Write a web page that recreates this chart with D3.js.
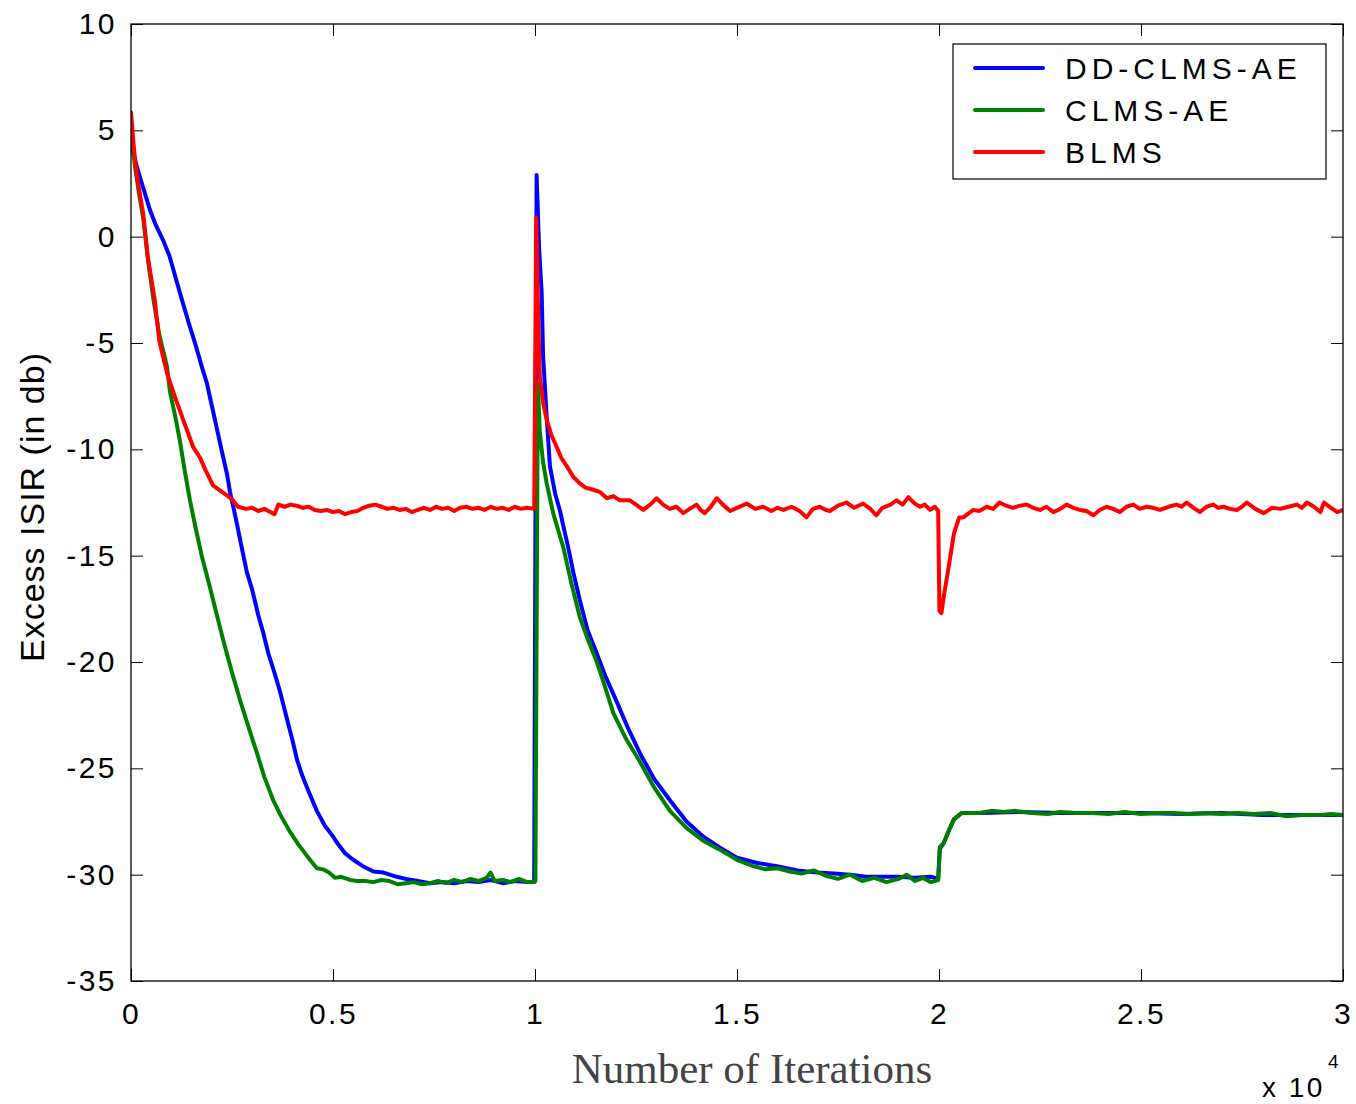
<!DOCTYPE html>
<html>
<head>
<meta charset="utf-8">
<script src="https://cdn.jsdelivr.net/npm/d3@7"></script>
<style>
html,body{margin:0;padding:0;background:#fff;}
svg{display:block;}
</style>
</head>
<body>
<svg id="chart" width="1356" height="1104"></svg>
<script>
// ---- Data (iterations, Excess ISIR in dB) ----
const seriesNames = ["DD-CLMS-AE", "CLMS-AE", "BLMS"];
const seriesColors = ["#0000ff", "#008000", "#ff0000"];

const ddclmsData = [
[0,4.4],[100,3.6],[220,2.8],[350,2.0],[470,1.25],[600,0.6],[790,-0.15],[950,-0.9],[1100,-1.9],[1250,-2.9],[1460,-4.25],[1600,-5.1],[1750,-6.1],[1880,-6.9],[1960,-7.6],[2100,-8.8],[2250,-10.1],[2380,-11.2],[2450,-12.0],[2600,-13.3],[2750,-14.7],[2870,-15.8],[3000,-16.6],[3150,-17.8],[3270,-18.6],[3400,-19.6],[3550,-20.5],[3690,-21.4],[3850,-22.6],[4000,-23.7],[4110,-24.6],[4250,-25.4],[4400,-26.1],[4600,-27.0],[4800,-27.7],[5000,-28.2],[5100,-28.5],[5300,-29.0],[5500,-29.3],[5740,-29.6],[6000,-29.85],[6250,-29.9],[6580,-30.1],[6800,-30.2],[7100,-30.3],[7400,-30.4],[7700,-30.35],[8000,-30.4],[8300,-30.3],[8600,-30.35],[8900,-30.25],[9200,-30.4],[9500,-30.3],[9800,-30.35],[9980,-30.35],
[10040,2.9],[10100,-0.5],[10165,-2.65],[10200,-5.6],[10290,-8.5],[10370,-10.8],[10500,-12.1],[10620,-12.9],[10700,-13.6],[10820,-14.6],[10950,-15.8],[11110,-17.1],[11300,-18.5],[11530,-19.6],[11750,-20.7],[12030,-21.9],[12300,-23.1],[12600,-24.3],[12950,-25.5],[13340,-26.5],[13750,-27.5],[14160,-28.2],[14550,-28.7],[15000,-29.2],[15500,-29.45],[15990,-29.6],[16500,-29.8],[16980,-29.9],[17400,-29.95],[17800,-30.0],[18200,-30.1],[18600,-30.1],[19000,-30.1],[19400,-30.15],[19800,-30.1],[19980,-30.2],
[20020,-28.8],[20120,-28.5],[20250,-27.9],[20370,-27.4],[20560,-27.1],[21000,-27.1],[22000,-27.05],[23000,-27.1],[24000,-27.1],[25000,-27.1],[26000,-27.15],[27000,-27.1],[28000,-27.2],[29000,-27.2],[30000,-27.2]
];

const clmsData = [
[0,5.0],[100,3.3],[200,2.0],[300,0.9],[420,-1.1],[550,-2.9],[700,-4.6],[890,-6.1],[965,-7.3],[1100,-8.5],[1210,-9.6],[1330,-11.0],[1460,-12.4],[1600,-13.7],[1750,-15.0],[1955,-16.5],[2100,-17.6],[2280,-18.95],[2500,-20.5],[2700,-21.8],[2900,-23.0],[3120,-24.3],[3300,-25.4],[3520,-26.5],[3700,-27.2],[3940,-28.0],[4150,-28.6],[4430,-29.3],[4600,-29.7],[4750,-29.75],[4900,-29.9],[5050,-30.15],[5200,-30.1],[5420,-30.25],[5600,-30.3],[5800,-30.3],[6000,-30.35],[6200,-30.25],[6400,-30.3],[6600,-30.45],[6800,-30.4],[7000,-30.35],[7200,-30.45],[7400,-30.4],[7600,-30.3],[7800,-30.4],[8000,-30.25],[8200,-30.35],[8400,-30.2],[8600,-30.3],[8800,-30.15],[8900,-29.9],[9000,-30.3],[9200,-30.25],[9400,-30.35],[9600,-30.2],[9800,-30.35],[9980,-30.35],
[10010,-30.3],[10070,-6.9],[10120,-9.2],[10200,-10.6],[10290,-11.6],[10450,-13.0],[10620,-14.1],[10700,-14.6],[10900,-16.3],[11110,-17.9],[11300,-18.9],[11530,-20.0],[11740,-21.2],[11940,-22.4],[12250,-23.6],[12600,-24.7],[12950,-25.9],[13340,-27.0],[13750,-27.8],[14160,-28.4],[14550,-28.8],[15000,-29.3],[15400,-29.6],[15700,-29.75],[16000,-29.7],[16300,-29.85],[16600,-29.95],[16900,-29.8],[17200,-30.05],[17500,-30.2],[17800,-30.0],[18100,-30.3],[18400,-30.15],[18700,-30.35],[19000,-30.2],[19200,-30.0],[19400,-30.3],[19600,-30.15],[19800,-30.35],[19980,-30.25],
[20020,-28.7],[20120,-28.5],[20250,-27.9],[20370,-27.4],[20560,-27.1],[21000,-27.1],[21300,-27.0],[21600,-27.05],[21900,-27.0],[22300,-27.1],[22700,-27.15],[23000,-27.05],[23400,-27.1],[23800,-27.1],[24200,-27.15],[24600,-27.05],[25000,-27.15],[25400,-27.1],[25800,-27.1],[26200,-27.15],[26600,-27.1],[27000,-27.15],[27400,-27.1],[27800,-27.15],[28200,-27.1],[28600,-27.25],[29000,-27.2],[29400,-27.2],[29700,-27.15],[30000,-27.2]
];

const blmsData = [
[0,5.85],[80,4.0],[150,2.8],[300,1.1],[420,-1.0],[590,-3.0],[700,-4.9],[890,-6.4],[1100,-7.6],[1290,-8.6],[1540,-9.9],[1710,-10.4],[1850,-11.0],[2030,-11.7],[2250,-12.0],[2400,-12.2],[2520,-12.4],
[2650,-12.7],[2850,-12.8],[3000,-12.75],[3150,-12.9],[3300,-12.8],[3450,-12.95],[3550,-13.05],[3650,-12.6],[3800,-12.7],[3950,-12.6],[4100,-12.65],[4250,-12.75],[4400,-12.7],[4550,-12.85],[4700,-12.9],[4850,-12.85],[5000,-12.95],[5150,-12.9],[5300,-13.05],[5450,-12.95],[5600,-12.9],[5750,-12.75],[5900,-12.65],[6050,-12.6],[6200,-12.7],[6350,-12.8],[6500,-12.75],[6650,-12.85],[6800,-12.8],[6950,-12.95],[7100,-12.85],[7250,-12.75],[7400,-12.85],[7550,-12.7],[7700,-12.8],[7850,-12.75],[8000,-12.9],[8150,-12.75],[8300,-12.7],[8450,-12.8],[8600,-12.75],[8750,-12.85],[8900,-12.7],[9050,-12.8],[9200,-12.75],[9350,-12.85],[9500,-12.7],[9650,-12.8],[9800,-12.75],[9980,-12.8],
[10030,0.9],[10080,-3.8],[10120,-6.6],[10200,-7.8],[10290,-8.6],[10400,-9.3],[10540,-9.9],[10650,-10.4],[10790,-10.8],[10950,-11.3],[11110,-11.6],[11250,-11.8],[11440,-11.9],[11600,-12.0],[11780,-12.3],[11940,-12.2],
[12100,-12.4],[12350,-12.4],[12500,-12.6],[12680,-12.85],[12850,-12.6],[13010,-12.3],[13170,-12.6],[13340,-12.8],[13500,-12.7],[13670,-13.0],[13830,-12.8],[14000,-12.6],[14100,-12.85],[14200,-13.0],[14350,-12.7],[14500,-12.3],[14650,-12.6],[14830,-12.9],[15000,-12.75],[15240,-12.55],[15450,-12.8],[15650,-12.7],[15850,-12.9],[16000,-12.75],[16150,-12.85],[16350,-12.7],[16550,-12.9],[16720,-13.2],[16880,-12.8],[17050,-12.7],[17200,-12.85],[17300,-12.9],[17500,-12.65],[17710,-12.5],[17900,-12.75],[18120,-12.55],[18300,-12.8],[18450,-13.1],[18600,-12.75],[18800,-12.6],[18950,-12.4],[19100,-12.6],[19240,-12.25],[19400,-12.55],[19530,-12.7],[19650,-12.6],[19780,-12.85],[19900,-12.7],[19980,-12.9],
[20010,-17.6],[20060,-17.7],[20120,-16.9],[20250,-15.4],[20370,-13.95],[20500,-13.2],[20600,-13.2],[20740,-13.0],[20850,-12.85],[21000,-12.9],[21180,-12.7],[21340,-12.8],[21500,-12.5],[21660,-12.65],[21830,-12.75],[22000,-12.65],[22170,-12.6],[22330,-12.75],[22500,-12.85],[22660,-12.7],[22830,-12.95],[23000,-12.8],[23160,-12.6],[23320,-12.75],[23490,-12.85],[23650,-12.9],[23820,-13.1],[23980,-12.85],[24150,-12.7],[24310,-12.8],[24480,-12.95],[24640,-12.7],[24810,-12.6],[24970,-12.8],[25140,-12.7],[25300,-12.75],[25470,-12.85],[25680,-12.7],[25880,-12.6],[26000,-12.7],[26130,-12.5],[26300,-12.75],[26460,-12.95],[26620,-12.7],[26790,-12.6],[26910,-12.75],[27040,-12.7],[27200,-12.8],[27370,-12.85],[27500,-12.7],[27620,-12.5],[27830,-12.8],[28040,-13.0],[28250,-12.75],[28450,-12.8],[28650,-12.7],[28860,-12.6],[28980,-12.75],[29110,-12.5],[29280,-12.7],[29440,-12.95],[29530,-12.5],[29700,-12.75],[29860,-12.95],[30000,-12.85]
];

const allSeries = [ddclmsData, clmsData, blmsData];

const xTickValues = [0, 5000, 10000, 15000, 20000, 25000, 30000];
const xTickLabels = ["0", "0.5", "1", "1.5", "2", "2.5", "3"];
const yTickValues = [10, 5, 0, -5, -10, -15, -20, -25, -30, -35];
const yTickLabels = ["10", "5", "0", "-5", "-10", "-15", "-20", "-25", "-30", "-35"];

const xLabel = "Number of Iterations";
const yLabel = "Excess ISIR (in db)";

// ---- Layout ----
const svg = d3.select("#chart");
const L = 131, T = 24, R = 1343, B = 981;
const x = d3.scaleLinear().domain([0, 30000]).range([L, R]);
const y = d3.scaleLinear().domain([-35, 10]).range([B, T]);
const tickLen = 12;

svg.append("rect").attr("width", 1356).attr("height", 1104).attr("fill", "#fff");

svg.append("defs").append("clipPath").attr("id", "clip")
  .append("rect").attr("x", L).attr("y", T).attr("width", R - L).attr("height", B - T);

// Axes with inward ticks
const fontTick = "'Liberation Sans', Arial, sans-serif";
const bottomAxis = d3.axisBottom(x).tickValues(xTickValues).tickFormat((d, i) => xTickLabels[i]).tickSizeInner(-tickLen).tickSizeOuter(0).tickPadding(33);
const topAxis = d3.axisTop(x).tickValues(xTickValues).tickFormat("").tickSizeInner(-tickLen).tickSizeOuter(0);
const leftAxis = d3.axisLeft(y).tickValues(yTickValues).tickFormat((d, i) => yTickLabels[i]).tickSizeInner(-tickLen).tickSizeOuter(0).tickPadding(14);
const rightAxis = d3.axisRight(y).tickValues(yTickValues).tickFormat("").tickSizeInner(-tickLen).tickSizeOuter(0);

function styleAxis(g) {
  g.select(".domain").remove();
  g.selectAll(".tick line").attr("stroke", "#000").attr("stroke-width", 1);
  g.selectAll(".tick text").attr("fill", "#000").attr("font-family", fontTick).attr("font-size", 30).attr("letter-spacing", "2.5px");
}
svg.append("g").attr("transform", `translate(0,${B})`).call(bottomAxis).call(styleAxis)
  .selectAll(".tick text").attr("dy", "0.32em");
svg.append("g").attr("transform", `translate(0,${T})`).call(topAxis).call(styleAxis);
svg.append("g").attr("transform", `translate(${L},0)`).call(leftAxis).call(styleAxis);
svg.append("g").attr("transform", `translate(${R},0)`).call(rightAxis).call(styleAxis);

// Lines
const line = d3.line().x(d => x(d[0])).y(d => y(d[1])).curve(d3.curveLinear);
const plot = svg.append("g").attr("clip-path", "url(#clip)");
allSeries.forEach((data, i) => {
  plot.append("path").datum(data)
    .attr("d", line)
    .attr("fill", "none")
    .attr("stroke", seriesColors[i])
    .attr("stroke-width", 4)
    .attr("stroke-linejoin", "round")
    .attr("stroke-linecap", "round");
});

// Frame
svg.append("rect").attr("x", L).attr("y", T).attr("width", R - L).attr("height", B - T)
  .attr("fill", "none").attr("stroke", "#000").attr("stroke-width", 1.3);

// Legend
const lg = svg.append("g");
lg.append("rect").attr("x", 953).attr("y", 44).attr("width", 373).attr("height", 135)
  .attr("fill", "#fff").attr("stroke", "#000").attr("stroke-width", 1.2);
seriesNames.forEach((name, i) => {
  const yy = 68 + i * 42;
  lg.append("line").attr("x1", 975).attr("x2", 1043).attr("y1", yy).attr("y2", yy)
    .attr("stroke", seriesColors[i]).attr("stroke-width", 4).attr("stroke-linecap", "round");
  lg.append("text").attr("x", 1065).attr("y", yy).attr("dy", "0.36em")
    .attr("font-family", fontTick).attr("font-size", 30).attr("letter-spacing", "5px")
    .attr("fill", "#000").text(name);
});

// Axis labels
svg.append("text").attr("x", 752).attr("y", 1083).attr("text-anchor", "middle")
  .attr("font-family", "'Liberation Serif', 'Times New Roman', serif").attr("font-size", 43)
  .attr("fill", "#444").text(xLabel);
svg.append("text").attr("transform", "translate(44,507) rotate(-90)").attr("text-anchor", "middle")
  .attr("font-family", fontTick).attr("font-size", 34).attr("letter-spacing", "1px")
  .attr("fill", "#000").text(yLabel);

// Exponent
svg.append("text").attr("x", 1262).attr("y", 1097)
  .attr("font-family", fontTick).attr("font-size", 28).attr("letter-spacing", "2.5px")
  .attr("fill", "#000").text("x 10");
svg.append("text").attr("x", 1328).attr("y", 1068)
  .attr("font-family", fontTick).attr("font-size", 19).attr("fill", "#000").text("4");
</script>
</body>
</html>
